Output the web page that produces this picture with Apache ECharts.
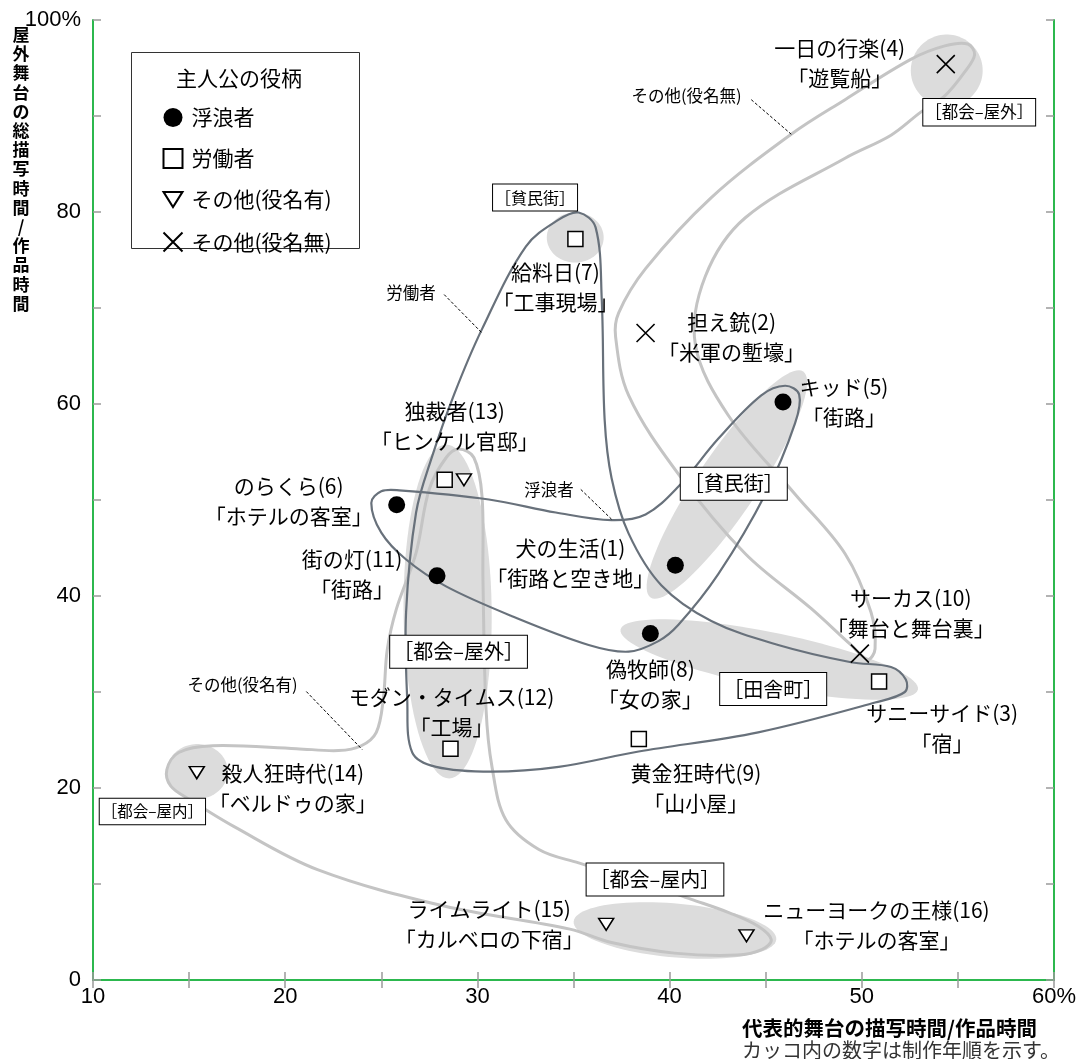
<!DOCTYPE html>
<html><head><meta charset="utf-8">
<script src="https://cdn.jsdelivr.net/npm/echarts@6/dist/echarts.min.js"></script>
<style>html,body{margin:0;padding:0;background:#fff}#c{width:1079px;height:1059px}</style>
</head><body><div id="c"></div>
<script>
// ---------- data ----------
const roles = ['浮浪者','労働者','その他(役名有)','その他(役名無)'];
const films = ['犬の生活(1)','担え銃(2)','サニーサイド(3)','一日の行楽(4)','キッド(5)','のらくら(6)','給料日(7)','偽牧師(8)','黄金狂時代(9)','サーカス(10)','街の灯(11)','モダン・タイムス(12)','独裁者(13)','独裁者(13)','殺人狂時代(14)','ライムライト(15)','ニューヨークの王様(16)'];
const scenes = ['「街路と空き地」','「米軍の塹壕」','「宿」','「遊覧船」','「街路」','「ホテルの客室」','「工事現場」','「女の家」','「山小屋」','「舞台と舞台裏」','「街路」','「工場」','「ヒンケル官邸」','「ヒンケル官邸」','「ベルドゥの家」','「カルベロの下宿」','「ホテルの客室」'];
const roleIndex = [0,3,1,3,0,0,1,0,1,3,0,1,1,2,2,2,2];
const mainStageShare = [40.3,38.75,50.9,54.37,45.9,25.8,35.1,39.0,38.4,49.9,27.9,28.6,28.3,29.3,15.4,36.7,44.0];
const outdoorShare  = [43.2,67.4,31.1,95.4,60.2,49.5,77.2,36.1,25.1,34.0,42.1,24.1,52.1,52.1,21.6,5.8,4.6];

// outlines of the role groups (data units)
const vagrantOutline = [[24.48,49.7],[25.0,50.9],[25.93,51.0],[30.6,50.05],[34.08,48.7],[36.98,47.9],[38.75,48.5],[40.46,51.4],[42.54,56.4],[44.77,60.9],[46.01,61.9],[46.74,61.0],[46.53,58.0],[44.98,50.6],[42.54,42.3],[40.46,37.0],[39.42,35.3],[37.87,34.2],[35.79,34.9],[31.8,37.9],[28.37,41.0],[26.29,43.8],[25.0,46.6]];
const laborerOutline = [[35.27,79.95],[36.15,78.4],[36.47,70.9],[36.62,58.4],[36.98,52.3],[37.87,46.5],[39.58,41.1],[42.17,37.4],[45.65,34.9],[49.44,33.1],[51.52,32.6],[52.29,31.3],[52.24,30.0],[50.69,28.9],[44.61,25.8],[38.39,23.8],[34.23,22.2],[30.76,21.7],[27.85,22.2],[26.61,23.7],[26.35,29.2],[26.29,38.3],[26.81,48.7],[27.59,54.2],[28.79,61.0],[30.24,67.8],[32.52,76.4],[34.23,79.2]];
const namedOtherOutline = [[14.46,23.7],[16.23,24.4],[20.59,24.1],[22.77,23.9],[23.96,24.4],[24.74,25.8],[25.1,29.2],[25.31,34.4],[25.78,38.6],[26.81,44.5],[27.49,51.1],[28.37,54.4],[29.04,55.3],[29.82,54.4],[30.24,50.4],[30.29,41.7],[30.45,28.2],[30.76,22.2],[31.48,16.7],[33.2,13.6],[35.27,12.2],[38.39,10.3],[41.14,8.4],[43.11,7.0],[44.61,5.6],[45.29,4.2],[44.82,3.2],[43.52,2.6],[40.25,2.8],[36.98,3.9],[34.81,5.3],[28.27,7.7],[21.68,11.5],[17.32,16.0],[15.03,18.8],[14.05,20.2],[13.84,21.9]];
const unnamedOtherOutline = [[55.51,97.5],[55.87,96.4],[55.36,94.6],[54.32,92.1],[53.07,90.4],[51.52,88.0],[49.13,85.6],[43.94,79.4],[41.86,73.3],[41.34,66.2],[43.06,58.8],[46.53,50.6],[49.13,44.4],[50.48,38.3],[50.69,34.5],[50.32,33.4],[49.44,34.9],[47.36,38.7],[43.94,44.4],[40.46,52.7],[37.87,60.9],[37.19,67.0],[37.35,69.5],[38.75,74.1],[42.17,81.5],[46.33,88.1],[49.13,91.7],[52.55,95.9],[54.32,97.3]];

// shaded stage regions: two tips (x1,y1,x2,y2) + width ratio
const sceneRegions = [
  [52.55,94.74,56.29,94.74,1.0],
  [33.61,77.34,36.57,77.34,0.88],
  [39.01,39.84,46.95,63.39,0.22],
  [28.37,55.78,28.53,20.99,0.264],
  [37.45,36.51,52.92,30.26,0.18],
  [13.84,21.72,17.01,21.72,0.9],
  [35.01,6.1,45.55,4.22,0.265]
];
// stage tags
const sceneTags = ['［都会–屋外］','［貧民街］','［貧民街］','［都会–屋外］','［田舎町］','［都会–屋内］','［都会–屋内］'];
const sceneTagX = [56.11,33.0,43.34,29.02,45.39,13.09,39.24];
const sceneTagY = [90.4,81.5,51.7,34.2,30.3,17.55,10.47];
// leader notes
const leaderTexts = ['その他(役名無)','労働者','浮浪者','その他(役名有)'];
const leaderPoints = [[40.88,92.1,44.25,91.7,46.33,88.1],[26.55,71.6,28.27,71.4,30.24,67.4],[33.72,51.1,35.38,51.1,36.98,48.0],[17.78,30.8,21.1,30.05,24.01,24.0]];

// ---------- styles ----------
const JP = '"Noto Sans CJK JP", sans-serif';
const labelOffsets = [[-105,-2],[86,4],[63,47],[-106,-1],[61,0],[-108,-4],[-20,48],[0,51],[57,49],[51,-41],[-85,-2],[1,-37],[10,-54],null,[96,15],[-117,0],[130,-11]];
const tagSizes = [16.5,16,20,20,20,15.5,20];
const roleSymbols = ['circle','rect','path://M0,0L2,0L1,1.6Z','path://M0,0L1,1M1,0L0,1'];
const roleSizes = [17,15,[15,12],18];
const roleStyles = [
  {color:'#000', opacity:1},
  {color:'#fff', borderColor:'#000', borderWidth:1.5, opacity:1},
  {color:'#fff', borderColor:'#000', borderWidth:1.5, opacity:1},
  {color:'none', borderColor:'#000', borderWidth:1.6, opacity:1}
];

function outlineSeries(points, color, width, z){
  return {type:'custom', silent:true, z:z, data:[points[0]], encode:{x:0,y:1}, clip:false,
    renderItem:function(params, api){
      const pts = points.map(p => api.coord(p));
      return {type:'polygon', shape:{points:pts, smooth:0.35}, style:{fill:null, stroke:color, lineWidth:width}};
    }};
}

const series = [];
series.push({type:'custom', silent:true, z:1, data:sceneRegions, encode:{x:[0,2], y:[1,3]},
  renderItem:function(params, api){
    const p1 = api.coord([api.value(0), api.value(1)]);
    const p2 = api.coord([api.value(2), api.value(3)]);
    const ratio = api.value(4);
    const cx=(p1[0]+p2[0])/2, cy=(p1[1]+p2[1])/2, dx=p2[0]-p1[0], dy=p2[1]-p1[1];
    const a=Math.hypot(dx,dy)/2, b=a*ratio, ang=Math.atan2(dy,dx);
    const pts=[];
    for(let k=0;k<90;k++){const t=k/90*2*Math.PI; const ex=a*Math.cos(t), ey=b*Math.sin(t);
      pts.push([cx+ex*Math.cos(ang)-ey*Math.sin(ang), cy+ex*Math.sin(ang)+ey*Math.cos(ang)]);}
    return {type:'polygon', shape:{points:pts}, style:{fill:'#dcdcdc'}};
  }});
series.push(outlineSeries(namedOtherOutline,'#c4c4c4',3,2));
series.push(outlineSeries(unnamedOtherOutline,'#c4c4c4',3,2));
series.push(outlineSeries(vagrantOutline,'#68717b',2.2,3));
series.push(outlineSeries(laborerOutline,'#68717b',2.2,3));
series.push({type:'custom', silent:true, z:4, data:leaderPoints, encode:{x:[0,2,4], y:[1,3,5]},
  renderItem:function(params, api){
    const t = api.coord([api.value(0), api.value(1)]);
    const a = api.coord([api.value(2), api.value(3)]);
    const b = api.coord([api.value(4), api.value(5)]);
    return {type:'group', children:[
      {type:'text', x:t[0], y:t[1], style:{text:leaderTexts[params.dataIndex], fontSize:16.5, fontFamily:JP, fill:'#000', align:'center', verticalAlign:'middle'}},
      {type:'line', shape:{x1:a[0],y1:a[1],x2:b[0],y2:b[1]}, style:{stroke:'#000', lineWidth:1, lineDash:[3,2]}}
    ]};
  }});
series.push({type:'custom', silent:true, z:5, data:sceneTagX.map((x,i)=>[x, sceneTagY[i]]), encode:{x:0,y:1},
  renderItem:function(params, api){
    const p = api.coord([api.value(0), api.value(1)]);
    const fs = tagSizes[params.dataIndex];
    return {type:'text', x:p[0], y:p[1], style:{text:sceneTags[params.dataIndex], fontSize:fs, fontFamily:JP, fill:'#000',
      align:'center', verticalAlign:'middle', backgroundColor:'#fff', borderColor:'#000', borderWidth:1,
      padding:[Math.round(fs*0.3), Math.round(fs*0.15)]}};
  }});
roles.forEach(function(role, r){
  const data = [];
  films.forEach(function(f, i){
    if (roleIndex[i] !== r) return;
    const off = labelOffsets[i];
    data.push({value:[mainStageShare[i], outdoorShare[i]], name:f,
      label: off ? {show:true, offset:off, formatter:f+'\n'+scenes[i]} : {show:false}});
  });
  series.push({type:'scatter', name:role, z:10, symbol:roleSymbols[r], symbolSize:roleSizes[r],
    itemStyle:roleStyles[r], data:data, emphasis:{disabled:true},
    label:{show:true, position:'inside', color:'#000', fontSize:21, lineHeight:30, fontFamily:JP, align:'center', verticalAlign:'middle'}});
});

const axisLine = {lineStyle:{color:'#2cb84e', width:2}};
const axisTick = {inside:true, length:8, lineStyle:{color:'#9a9a9a', width:1.5}};
const yTitle = '屋外舞台の総描写時間/作品時間'.split('').join('\n');

const option = {
  animation:false,
  textStyle:{fontFamily:JP},
  grid:{left:93, right:23, top:20, bottom:79, containLabel:false},
  xAxis:[
    {type:'value', min:10, max:60, interval:5, position:'bottom', axisLine:axisLine, axisTick:axisTick, splitLine:{show:false},
     axisLabel:{margin:6, fontSize:22, color:'#000', fontFamily:'"Liberation Sans", Arial, sans-serif',
       formatter:function(v){ return v%10===0 ? (v===60 ? '60%' : String(v)) : ''; }}},
    {type:'value', min:10, max:60, interval:5, position:'top', axisLine:axisLine, axisTick:axisTick, splitLine:{show:false}, axisLabel:{show:false}}
  ],
  yAxis:[
    {type:'value', min:0, max:100, interval:10, position:'left', axisLine:axisLine, axisTick:axisTick, splitLine:{show:false},
     axisLabel:{margin:12, fontSize:22, color:'#000', fontFamily:'"Liberation Sans", Arial, sans-serif',
       formatter:function(v){ return v%20===0 ? (v===100 ? '100%' : String(v)) : ''; }}},
    {type:'value', min:0, max:100, interval:10, position:'right', axisLine:axisLine, axisTick:axisTick, splitLine:{show:false}, axisLabel:{show:false}}
  ],
  legend:{orient:'vertical', left:156, top:102, itemWidth:19, itemHeight:19, itemGap:20, selectedMode:false, z:20,
    textStyle:{fontSize:21, lineHeight:19, color:'#000', fontFamily:JP, padding:[0,0,0,4]}, data:roles},
  graphic:[
    {type:'rect', left:131, top:52, z:-1, shape:{width:228, height:196}, style:{fill:'#fff', stroke:'#333', lineWidth:1}},
    {type:'text', x:239, y:78, style:{text:'主人公の役柄', fontSize:21, fontFamily:JP, fill:'#000', align:'center', verticalAlign:'middle'}},
    {type:'text', x:21, y:25, style:{text:yTitle, fontSize:17, fontWeight:'bold', lineHeight:19.2, fontFamily:JP, fill:'#000', align:'center', verticalAlign:'top'}},
    {type:'text', x:742, y:1028, style:{text:'代表的舞台の描写時間/作品時間', fontSize:20.5, fontWeight:'bold', fontFamily:JP, fill:'#000', align:'left', verticalAlign:'middle'}},
    {type:'text', x:742, y:1050, style:{text:'カッコ内の数字は制作年順を示す。', fontSize:20, fontFamily:JP, fill:'#333', align:'left', verticalAlign:'middle'}}
  ],
  series:series
};
const chart = echarts.init(document.getElementById('c'), null, {renderer:'canvas'});
chart.setOption(option);
</script></body></html>
